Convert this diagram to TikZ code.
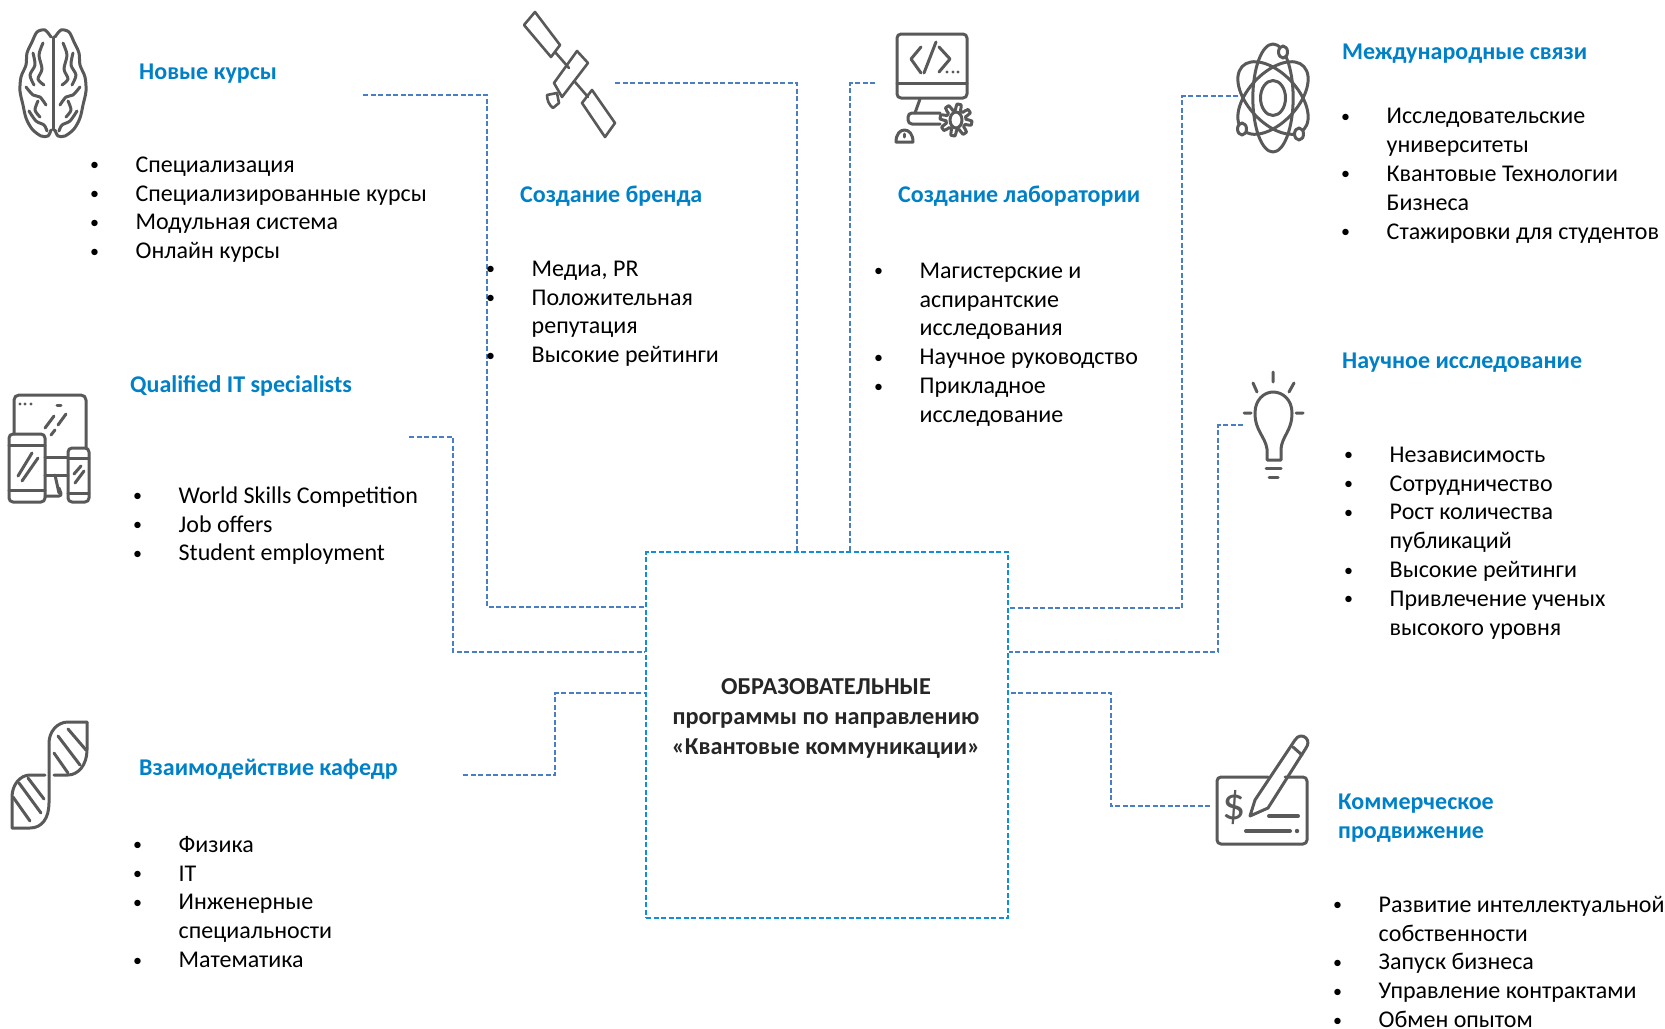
\documentclass[tikz,border=0pt]{standalone}
\usepackage{fontspec}
\setmainfont{Carlito}
\definecolor{headblue}{HTML}{0080C6}
\definecolor{boxblue}{HTML}{0F8FD8}
\definecolor{linkblue}{HTML}{4A7EC2}
\definecolor{icongray}{HTML}{595959}
\definecolor{progtext}{HTML}{262626}
\newcommand{\bl}{\strut\makebox[45.5pt][l]{\raisebox{1.5pt}{\fontsize{18}{18}\selectfont\textbullet}}}
\newcommand{\ns}{\strut\hspace*{45.5pt}}
\tikzset{
  headtext/.style={anchor=base west,inner sep=0pt,text=headblue,font=\fontsize{24}{29}\selectfont\bfseries,align=left},
  listtext/.style={anchor=north west,inner sep=0pt,align=left,font=\fontsize{24}{28.8}\selectfont},
  linkline/.style={linkblue,line width=1.7pt,dash pattern=on 5pt off 2.5pt},
  iconline/.style={icongray,line width=3pt,line cap=round,line join=round}
}
\begin{document}
\begin{tikzpicture}[x=1pt,y=-1pt]
  \useasboundingbox (0,0) rectangle (1665,1028);
  \node[draw=boxblue,line width=1.8pt,dash pattern=on 5pt off 2.5pt,minimum width=362pt,minimum height=366pt,inner sep=0pt] (prog) at (827,735) {};
  \node[inner sep=0pt,align=center,text=progtext,font=\fontsize{24.3}{30}\selectfont\bfseries] (progtitle) at (826,718.5) {ОБРАЗОВАТЕЛЬНЫЕ\\программы по направлению\\«Квантовые коммуникации»};
  % концы линий
  \coordinate (kursyend) at (363,95);
  \coordinate (kursybend) at (487,607);
  \coordinate (itend) at (409,437);
  \coordinate (itbend) at (453,652);
  \coordinate (kafend) at (463,775);
  \coordinate (kafbend) at (555,693);
  \coordinate (brendend) at (615,83);
  \coordinate (brendbend) at (797,552);
  \coordinate (labend) at (875,83);
  \coordinate (labbend) at (850,552);
  \coordinate (atomend) at (1238,96);
  \coordinate (atombend) at (1182,608);
  \coordinate (bulbend) at (1243,425);
  \coordinate (bulbbend) at (1218,652);
  \coordinate (checkend) at (1210,806);
  \coordinate (checkbend) at (1111,693);
  \draw[linkline] (kursyend) -| (kursybend) -- (kursybend -| prog.west);
  \draw[linkline] (itend) -| (itbend) -- (itbend -| prog.west);
  \draw[linkline] (kafend) -| (kafbend) -- (kafbend -| prog.west);
  \draw[linkline] (brendend) -| (brendbend |- prog.north);
  \draw[linkline] (labend) -| (labbend |- prog.north);
  \draw[linkline] (atomend) -| (atombend) -- (atombend -| prog.east);
  \draw[linkline] (bulbend) -| (bulbbend) -- (bulbbend -| prog.east);
  \draw[linkline] (checkend) -| (checkbend) -- (checkbend -| prog.east);
  % заголовки
  \node[headtext] (kursyhead) at (139,79) {Новые курсы};
  \node[headtext] (brendhead) at (520,202) {Создание бренда};
  \node[headtext] (labhead) at (898,202) {Создание лаборатории};
  \node[headtext] (atomhead) at (1342,59) {Международные связи};
  \node[headtext] (bulbhead) at (1342,368) {Научное исследование};
  \node[headtext] (ithead) at (130,392) {Qualified IT specialists};
  \node[headtext] (kafhead) at (139,775) {Взаимодействие кафедр};
  \node[headtext,anchor=north west] (checkhead) at (1338,794) {Коммерческое\\продвижение};
  % списки
  \node[listtext] (kursylist) at (90,152) {\bl Специализация\\\bl Специализированные курсы\\\bl Модульная система\\\bl Онлайн курсы};
  \node[listtext] (brendlist) at (486,256) {\bl Медиа, PR\\\bl Положительная\\\ns репутация\\\bl Высокие рейтинги};
  \node[listtext] (lablist) at (874,258) {\bl Магистерские и\\\ns аспирантские\\\ns исследования\\\bl Научное руководство\\\bl Прикладное\\\ns исследование};
  \node[listtext] (atomlist) at (1341,103.5) {\bl Исследовательские\\\ns университеты\\\bl Квантовые Технологии\\\ns Бизнеса\\\bl Стажировки для студентов};
  \node[listtext] (bulblist) at (1344,442) {\bl Независимость\\\bl Сотрудничество\\\bl Рост количества\\\ns публикаций\\\bl Высокие рейтинги\\\bl Привлечение ученых\\\ns высокого уровня};
  \node[listtext] (itlist) at (133,483) {\bl World Skills Competition\\\bl Job offers\\\bl Student employment};
  \node[listtext] (kaflist) at (133,832) {\bl Физика\\\bl IT\\\bl Инженерные\\\ns специальности\\\bl Математика};
  \node[listtext] (checklist) at (1333,892) {\bl Развитие интеллектуальной\\\ns собственности\\\bl Запуск бизнеса\\\bl Управление контрактами\\\bl Обмен опытом};
  % мозг
  \begin{scope}[shift={(53,83)},iconline]
    \foreach \s in {1,-1} {
      \begin{scope}[xscale=\s]
        \draw plot[smooth] coordinates {(2,-46) (8,-53) (16,-51) (21,-41) (26,-30) (27,-18) (32,-6) (33,8) (30,22) (27,35) (21,46) (12,53) (5,53) (2,47)};
        \draw plot[smooth] coordinates {(10,-40) (14,-28) (11,-14) (15,-4) (9,2)};
        \draw plot[smooth] coordinates {(20,-30) (18,-18) (23,-8) (19,2)};
        \draw plot[smooth] coordinates {(27,4) (20,12) (13,14) (7,22)};
        \draw plot[smooth] coordinates {(15,18) (18,27) (13,34)};
        \draw plot[smooth] coordinates {(24,28) (17,38) (9,42) (6,48)};
      \end{scope}
    }
    \draw (0,-46) -- (0,47);
  \end{scope}
  % спутник
  \begin{scope}[iconline,line width=2.6pt]
    \draw (535,12) -- (524,25) -- (551,57) -- (560,45) -- cycle;
    \draw (577,51) -- (588,63) -- (562,97) -- (554,83) -- cycle;
    \draw (592,90) -- (582,103) -- (605,137) -- (615,123) -- cycle;
    \draw (555,52) -- (569,68) (575,82) -- (588,97);
    \draw (547,95) -- (557,93) -- (559,103) -- (553,108) .. controls (549,105) and (547,100) .. (547,95);
  \end{scope}
  % монитор
  \begin{scope}[iconline]
    \draw[rounded corners=4pt] (897,34) rectangle (967,98);
    \draw (897,83) -- (967,83);
    \draw (921,47) -- (911,59) -- (921,73);
    \draw (936,42) -- (924,73);
    \draw (939,47) -- (950,59) -- (939,72);
    \foreach \x in {947,953,958} \fill[icongray] (\x,72) circle (1.6pt);
    \draw (920,99) -- (915,113);
    \draw[rounded corners=4pt] (940,113) -- (908,113) -- (908,124) -- (940,124);
    \draw[fill=white] plot[domain=0:360,samples=97] ({956+(13+3*sign(sin(8*\x)))*cos(\x)},{120+(13+3*sign(sin(8*\x)))*sin(\x)});
    \draw (956,120) ellipse (6pt and 8pt);
    \draw (896,142) -- (913,142) .. controls (913,134) and (909,130) .. (904.5,130) .. controls (900,130) and (896,134) .. (896,142) -- cycle;
    \draw (904.5,134) -- (904.5,137);
  \end{scope}
  % атом
  \begin{scope}[shift={(1273,98)},iconline]
    \draw (0,0) ellipse (12.5pt and 17.5pt);
    \begin{scope}[xscale=0.72]
      \foreach \a in {0,60,-60} \draw[rotate=\a] (0,0) ellipse (28pt and 54pt);
    \end{scope}
    \draw[fill=white] (10,-46) ellipse (4.5pt and 6pt);
    \draw[fill=white] (-31,31) ellipse (4.5pt and 6pt);
    \draw[fill=white] (26,36) ellipse (4.5pt and 6pt);
  \end{scope}
  % устройства
  \begin{scope}[iconline]
    \draw[rounded corners=5pt] (14,434) -- (14,395) -- (86,395) -- (86,448);
    \foreach \x in {20,25,31} \fill[icongray] (\x,404) circle (1.6pt);
    \draw (45,457) -- (68,457) (45,475) -- (68,475);
    \draw (55,475) -- (59,493);
    \draw[rounded corners=3pt] (45,496) -- (62,496) -- (59,488);
    \draw (57,405) -- (61,405);
    \draw (45,428) -- (54,416) (51,435) -- (55,430) (58,425) -- (66,414);
    \draw[rounded corners=4pt] (9,434) rectangle (45,502);
    \draw (9,445) -- (45,445) (9,490) -- (45,490);
    \draw (18,476) -- (32,453) (22,481) -- (38,458);
    \draw[rounded corners=4pt] (68,448) rectangle (89,502);
    \draw (68,458) -- (89,458) (68,493) -- (89,493);
    \draw (74,474) -- (81,466) (75,483) -- (84,471);
  \end{scope}
  % днк
  \begin{scope}[iconline]
    \draw (87,722) -- (68,722) .. controls (57,722) and (49,732) .. (49,743) -- (49,803) .. controls (49,818) and (42,828) .. (30,828) -- (12,828) -- (12,797) .. controls (12,785) and (20,775) .. (30,775) -- (45,775);
    \draw (87,722) -- (87,750) .. controls (87,765) and (78,775) .. (68,775) -- (54,775);
    \draw (68,729) -- (86,750) (58,736) -- (80,765) (54,753) -- (68,773);
    \draw (28,778) -- (44,799) (19,783) -- (41,813) (13,797) -- (30,821);
  \end{scope}
  % лампочка
  \begin{scope}[iconline]
    \draw (1273,372) -- (1273,382) (1253,383) -- (1257,392) (1294,383) -- (1289,392) (1244,413) -- (1251,413) (1296,413) -- (1303,413);
    \draw (1267,460) -- (1267,449) .. controls (1265,436) and (1255,431) .. (1255,413) .. controls (1255,400) and (1264,392) .. (1273,392) .. controls (1283,392) and (1292,400) .. (1292,413) .. controls (1292,431) and (1282,436) .. (1281,449) -- (1281,460) -- cycle;
    \draw (1266,468) -- (1281,468) (1269,477) -- (1278,477);
  \end{scope}
  % чек
  \begin{scope}[iconline]
    \draw[rounded corners=4pt] (1268,777) -- (1217,777) -- (1217,844) -- (1307,844) -- (1307,777) -- (1285,777);
    \node[inner sep=0pt,text=icongray,font=\fontsize{46}{46}\selectfont] (dollar) at (1234,808) {\$};
    \draw (1250,816) -- (1255,800) -- (1295,740) .. controls (1298,735) and (1303,735) .. (1306,738) .. controls (1309,741) and (1308,745) .. (1306,748) -- (1268,808) -- cycle;
    \draw (1293,747) -- (1302,755);
    \draw[line width=4pt] (1269,816) -- (1298,816) (1246,831) -- (1290,831);
    \fill[icongray] (1297,831) circle (2.2pt);
  \end{scope}
\end{tikzpicture}
\end{document}
